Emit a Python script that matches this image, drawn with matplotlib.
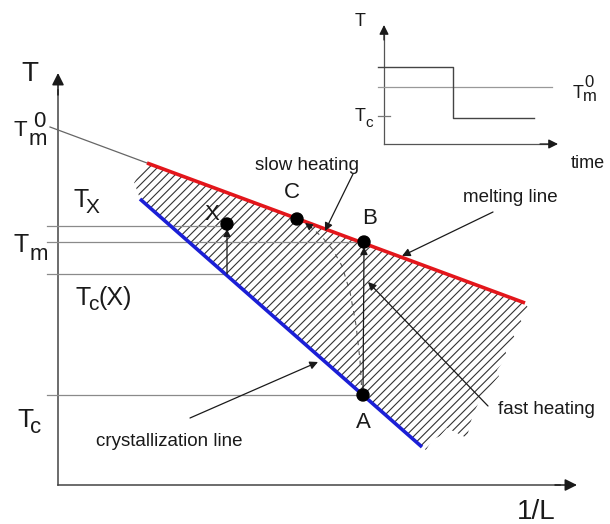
import matplotlib
matplotlib.use('Agg')
import matplotlib.pyplot as plt
from matplotlib.patches import Polygon, Circle
import numpy as np

plt.rcParams['font.family'] = ['Liberation Sans', 'DejaVu Sans']

W, H = 610, 524

# melting (red) and crystallization (blue) lines, drawing units = pixels
melt_x = [147, 525]
melt_y = [163, 303]
cryst_x = [140, 422]
cryst_y = [199, 447]
melt_ext_x = [50, 147]
melt_ext_y = [127, 163]

# ragged border of the hatched region
right_edge_x = [525, 529, 519, 522, 512, 515, 505, 507, 497, 499, 489, 484, 478, 474, 470, 467, 455, 447, 440, 432, 426]
right_edge_y = [303, 309, 318, 322, 333, 338, 350, 356, 370, 376, 388, 396, 404, 412, 424, 438, 432, 428, 436, 440, 450]
left_edge_x = [137, 134, 138, 142]
left_edge_y = [190, 183, 176, 168]

# states on the diagram
point_names = ['X', 'C', 'B', 'A']
point_x = [227, 297, 364, 363]
point_y = [224, 219, 242, 395]
name_x = [212, 292, 370, 363]
name_y = [215, 193, 218, 422]

# reference temperature levels: y, end of the line
level_y = [226, 242, 274, 395]
level_end = [227, 364, 226, 363]

# slow heating path from A to C
slow_x = [362, 360, 356, 350, 342, 333, 323, 312, 302]
slow_y = [395, 360, 325, 292, 266, 250, 238, 228, 221]

# inset: temperature vs time
step_t = [378, 453, 453, 534]
step_T = [67, 67, 118, 118]
inset_tm0_y = 87
inset_tc_y = 116

red = '#e3161b'
blue = '#1b1fd6'
ink = '#1a1a1a'
gray = '#8a8a8a'

plt.rcParams['hatch.linewidth'] = 0.8

fig = plt.figure(figsize=(W / 100, H / 100), dpi=100)
ax = fig.add_axes([0, 0, 1, 1])
ax.set_xlim(0, W)
ax.set_ylim(H, 0)
ax.axis('off')


def arrow(x0, y0, x1, y1, lw=1.0, head=13, color=ink):
    ax.annotate('', xy=(x1, y1), xytext=(x0, y0),
                arrowprops=dict(arrowstyle='-|>', color=color, lw=lw,
                                mutation_scale=head, shrinkA=0, shrinkB=0))


def tlabel(x, y, main, sub=None, sub_dx=0, sub_dy=0, sup=None, sup_dx=0, sup_dy=0,
           size=18, sub_size=16):
    ax.text(x, y, main, fontsize=size, color=ink, ha='left', va='baseline')
    if sub:
        ax.text(x + sub_dx, y + sub_dy, sub, fontsize=sub_size, color=ink, ha='left', va='baseline')
    if sup:
        ax.text(x + sup_dx, y + sup_dy, sup, fontsize=sub_size, color=ink, ha='left', va='baseline')


# hatched region between the two lines
poly_x = melt_x + right_edge_x + cryst_x[::-1] + left_edge_x
poly_y = melt_y + right_edge_y + cryst_y[::-1] + left_edge_y
ax.add_patch(Polygon(np.column_stack([poly_x, poly_y]), closed=True, facecolor='none',
                     edgecolor='#333333', lw=0, hatch='////', zorder=1))

# main axes
ax.plot([58, 58], [485, 90], color='#444444', lw=1.1, zorder=2)
ax.plot([58, 560], [485, 485], color='#444444', lw=1.1, zorder=2)
arrow(58, 95, 58, 73, lw=1.1, head=18)
arrow(555, 485, 577, 485, lw=1.1, head=18)
ax.text(30, 81, 'T', fontsize=20, color=ink, ha='center', va='baseline')
ax.text(536, 519, '1/L', fontsize=20, color=ink, ha='center', va='baseline')

# temperature levels
for yy, xe in zip(level_y, level_end):
    ax.plot([47, xe], [yy, yy], color=gray, lw=0.9, zorder=2)

ax.plot(melt_ext_x, melt_ext_y, color='#666666', lw=0.9, zorder=2)
ax.plot(melt_x, melt_y, color=red, lw=2.6, solid_capstyle='butt', zorder=3)
ax.plot(cryst_x, cryst_y, color=blue, lw=2.6, solid_capstyle='butt', zorder=3)

tlabel(13, 136, 'T', sub='m', sub_dx=16, sub_dy=9, sup='0', sup_dx=20, sup_dy=-9, size=16, sub_size=16)
tlabel(14, 252, 'T', sub='m', sub_dx=16, sub_dy=8, size=18, sub_size=16)
tlabel(73, 207, 'T', sub='X', sub_dx=13, sub_dy=6, size=18, sub_size=15)
tlabel(76, 305, 'T', sub='c', sub_dx=12, sub_dy=5, size=18, sub_size=15)
ax.text(98, 305, '(X)', fontsize=18, color=ink, ha='left', va='baseline')
tlabel(17, 427, 'T', sub='c', sub_dx=13, sub_dy=6, size=19, sub_size=16)

# vertical heating paths
arrow(227, 274, 227, 229, lw=0.9, head=11)
arrow(363, 395, 364, 247, lw=0.9, head=11)
ax.plot(slow_x, slow_y, color='#555555', lw=0.8, ls=(0, (4, 5)), zorder=2)
arrow(slow_x[-2], slow_y[-2], slow_x[-1] + 3, slow_y[-1] + 2, lw=0.8, head=11)

for px, py in zip(point_x, point_y):
    ax.add_patch(Circle((px, py), 6, color='black', zorder=5))
for name, nx, ny in zip(point_names, name_x, name_y):
    ax.text(nx, ny, name, fontsize=16, color=ink, ha='center', va='center')

# annotations
ax.text(307, 165, 'slow heating', fontsize=13.5, color=ink, ha='center', va='center')
arrow(353, 174, 325, 231, lw=0.9, head=12)
ax.text(510, 197, 'melting line', fontsize=13.5, color=ink, ha='center', va='center')
arrow(493, 212, 402, 256, lw=0.9, head=12)
ax.text(546, 410, 'fast heating', fontsize=13.5, color=ink, ha='center', va='center')
arrow(488, 406, 368, 282, lw=0.9, head=12)
ax.text(169, 442, 'crystallization line', fontsize=13.5, color=ink, ha='center', va='center')
arrow(190, 418, 318, 362, lw=0.9, head=12)

# inset
ax.plot([384, 384], [144, 35], color='#555555', lw=0.9)
ax.plot([384, 548], [144, 144], color='#555555', lw=0.9)
arrow(384, 40, 384, 25, lw=0.9, head=14)
arrow(540, 144, 558, 144, lw=0.9, head=14)
ax.plot([378, 552], [inset_tm0_y, inset_tm0_y], color='#999999', lw=0.9)
ax.plot([378, 390], [inset_tc_y, inset_tc_y], color='#777777', lw=0.9)
ax.plot(step_t, step_T, color='#444444', lw=1.0)
ax.text(360, 21, 'T', fontsize=13, color=ink, ha='center', va='center')
ax.text(588, 164, 'time', fontsize=13, color=ink, ha='center', va='center')
tlabel(573, 98, 'T', sub='m', sub_dx=10, sub_dy=3, sup='0', sup_dx=11, sup_dy=-11, size=13, sub_size=12)
tlabel(355, 121, 'T', sub='c', sub_dx=10, sub_dy=6, size=13, sub_size=11)

fig.savefig('out.png', dpi=100)
